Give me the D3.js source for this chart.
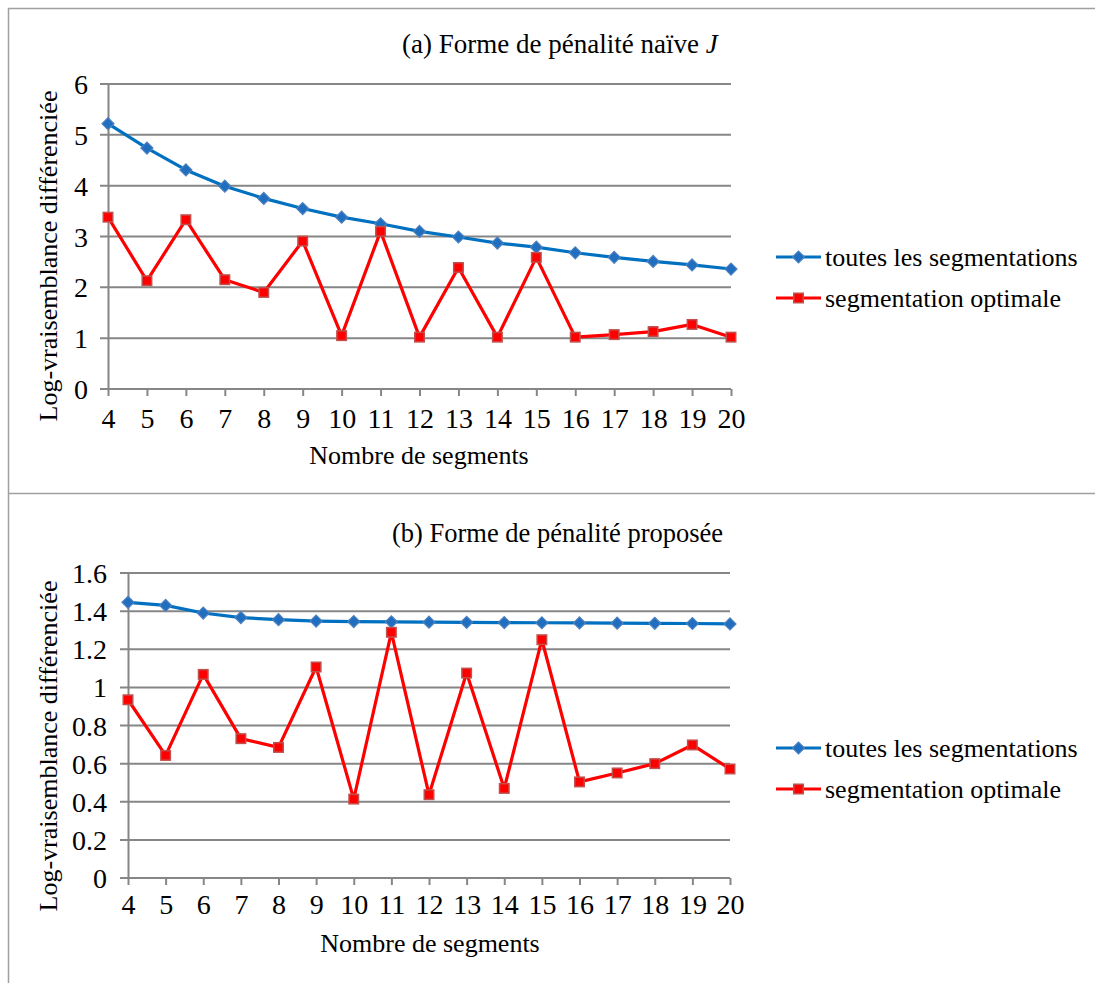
<!DOCTYPE html>
<html><head><meta charset="utf-8">
<script src="https://cdn.jsdelivr.net/npm/d3@7"></script>
<style>body{margin:0;background:#fff}svg{display:block}svg text{font-family:"Liberation Serif","Times New Roman",serif;fill:#000}</style>
</head><body>
<script>
const categories = [4,5,6,7,8,9,10,11,12,13,14,15,16,17,18,19,20];
const seriesNames = ["toutes les segmentations","segmentation optimale"];
// Panel (a)
const naiveAll = [5.22,4.74,4.31,3.99,3.75,3.55,3.38,3.25,3.10,2.99,2.87,2.79,2.68,2.59,2.51,2.44,2.36];
const naiveOpt = [3.38,2.13,3.33,2.15,1.90,2.91,1.05,3.10,1.02,2.39,1.02,2.59,1.02,1.07,1.13,1.27,1.02];
const naiveTicks = [0,1,2,3,4,5,6];
// Panel (b)
const propAll = [1.446,1.430,1.390,1.366,1.355,1.348,1.345,1.344,1.342,1.341,1.340,1.339,1.338,1.337,1.336,1.335,1.333];
const propOpt = [0.935,0.643,1.068,0.731,0.685,1.107,0.414,1.289,0.437,1.075,0.470,1.250,0.504,0.551,0.600,0.698,0.572];
const propTicks = [0,0.2,0.4,0.6,0.8,1,1.2,1.4,1.6];
const titles = ["(a) Forme de pénalité naïve ", "(b) Forme de pénalité proposée"];
const xTitle = "Nombre de segments";
const yTitle = "Log-vraisemblance différenciée";

const W = 1095, H = 983;
const FONT = "'Liberation Serif','Times New Roman',serif";
const svg = d3.select("body").append("svg").attr("width", W).attr("height", H);
const grey = "#868686", blue = "#0070C0", red = "#FF0000";

// frame
svg.append("line").attr("x1",8.5).attr("x2",8.5).attr("y1",8).attr("y2",H).attr("stroke","#a0a0a0").attr("stroke-width",1.5);
svg.append("line").attr("x1",8).attr("x2",W).attr("y1",8.5).attr("y2",8.5).attr("stroke","#a0a0a0").attr("stroke-width",1.5);
svg.append("line").attr("x1",8).attr("x2",W).attr("y1",493.5).attr("y2",493.5).attr("stroke","#a0a0a0").attr("stroke-width",1.5);

function panel(o){
  const g = svg.append("g");
  const x = d3.scalePoint().domain(categories).range([o.x0, o.x1]);
  const y = d3.scaleLinear().domain([0, o.ticks[o.ticks.length-1]]).range([o.y0, o.y1]);
  // gridlines
  g.selectAll(".grid").data(o.ticks).join("line")
    .attr("x1", o.x0 - 8).attr("x2", o.x1).attr("y1", d=>y(d)).attr("y2", d=>y(d))
    .attr("stroke", grey).attr("stroke-width", 2);
  // y axis
  const ya = g.append("g").attr("transform",`translate(${o.x0},0)`)
    .call(d3.axisLeft(y).tickValues(o.ticks).tickSize(0).tickPadding(o.yPad).tickFormat(d=>String(+d.toFixed(1))));
  ya.attr("font-family", FONT).attr("font-size", 28);
  ya.select(".domain").attr("stroke", grey).attr("stroke-width", 2);
  ya.selectAll("text").style("font-size", "28px").attr("dy","0.34em");
  // x axis
  const xa = g.append("g").attr("transform",`translate(0,${o.y0})`)
    .call(d3.axisBottom(x).tickSize(7));
  xa.attr("font-family", FONT).attr("font-size", 28);
  xa.select(".domain").attr("stroke", grey).attr("stroke-width", 2).attr("d", `M${o.x0},0H${o.x1}`);
  xa.selectAll(".tick line").attr("stroke", grey).attr("stroke-width", 2);
  xa.selectAll("text").style("font-size", "28px").attr("y", o.xLabOff).attr("dy", 0);
  // titles
  const t = g.append("text").attr("x", o.titleX).attr("y", o.titleY).style("font-size", o.titleSize + "px").text(o.title);
  if (o.italic) t.append("tspan").attr("font-style","italic").text(o.italic);
  g.append("text").attr("x", o.xtX).attr("y", o.xtY).attr("text-anchor","middle").style("font-size", "26px").text(xTitle);
  g.append("text").attr("transform",`translate(${o.ytX},${o.ytY}) rotate(-90)`).attr("text-anchor","middle").style("font-size", "26px").text(yTitle);
  // lines
  const line = d3.line().x((d,i)=>x(categories[i])).y(d=>y(d));
  g.append("path").datum(o.all).attr("d", line).attr("fill","none").attr("stroke", blue).attr("stroke-width", 3.2).attr("stroke-linejoin","round");
  g.append("path").datum(o.opt).attr("d", line).attr("fill","none").attr("stroke", red).attr("stroke-width", 3.2).attr("stroke-linejoin","round");
  g.selectAll(".dm").data(o.all).join("rect")
    .attr("x",-4.25).attr("y",-4.25).attr("width",8.5).attr("height",8.5)
    .attr("transform",(d,i)=>`translate(${x(categories[i])},${y(d)}) rotate(45)`)
    .attr("fill","#1F6EC0").attr("stroke","#4F81BD").attr("stroke-width",1.2);
  g.selectAll(".sq").data(o.opt).join("rect")
    .attr("x",(d,i)=>x(categories[i])-4.75).attr("y",d=>y(d)-4.75).attr("width",9.5).attr("height",9.5)
    .attr("fill",red).attr("stroke","#C0504D").attr("stroke-width",1.5);
  // legend
  const leg = g.append("g");
  seriesNames.forEach((nm,i)=>{
    const ly = o.legY[i];
    const c = i===0?blue:red;
    leg.append("line").attr("x1",776).attr("x2",821).attr("y1",ly).attr("y2",ly).attr("stroke",c).attr("stroke-width",3.2);
    if(i===0){
      leg.append("rect").attr("x",-4.25).attr("y",-4.25).attr("width",8.5).attr("height",8.5)
        .attr("transform",`translate(798.5,${ly}) rotate(45)`).attr("fill","#1F6EC0").attr("stroke","#4F81BD").attr("stroke-width",1.2);
    } else {
      leg.append("rect").attr("x",793.75).attr("y",ly-4.75).attr("width",9.5).attr("height",9.5).attr("fill",red).attr("stroke","#C0504D").attr("stroke-width",1.5);
    }
    leg.append("text").attr("x",825).attr("y",ly).attr("dy","0.33em").style("font-size","26px").text(nm);
  });
}

panel({x0:108, x1:731, y0:389, y1:84, ticks:naiveTicks, yPad:20, xLabOff:39, all:naiveAll, opt:naiveOpt,
  title:titles[0], italic:"J", titleX:402, titleY:53, titleSize:27, xtX:419, xtY:464, ytX:57, ytY:256, legY:[257,298]});
panel({x0:128, x1:730, y0:878, y1:573, ticks:propTicks, yPad:21, xLabOff:36, all:propAll, opt:propOpt,
  title:titles[1], italic:null, titleX:392, titleY:542, titleSize:26.5, xtX:430, xtY:952, ytX:57, ytY:746, legY:[748,789]});
</script>
</body></html>
